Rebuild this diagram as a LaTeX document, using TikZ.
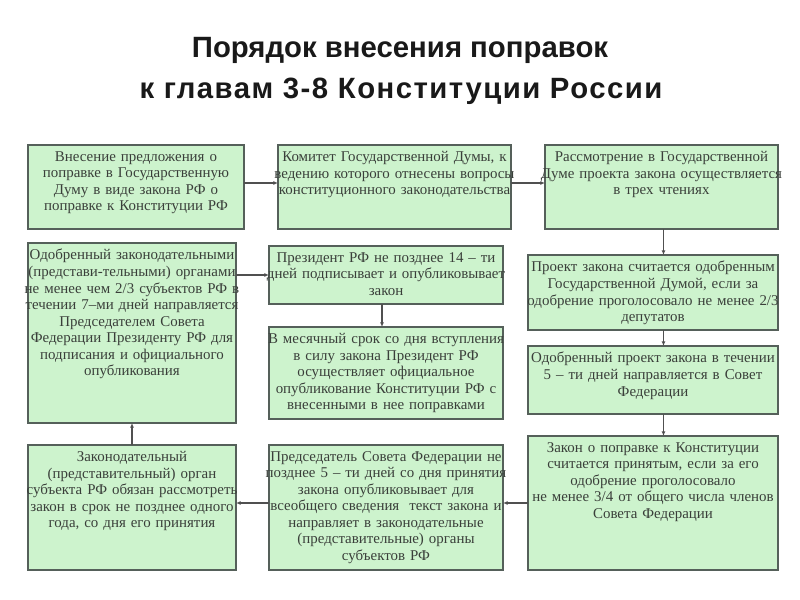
\documentclass[tikz,border=0pt]{standalone}
\usepackage{fontspec}
\setmainfont{Liberation Serif}
\newfontfamily\titlefont{Liberation Sans}
\newfontfamily\titlefontwide[LetterSpace=5]{Liberation Sans}
\usetikzlibrary{arrows.meta}
\definecolor{boxc}{HTML}{CDF3CD}
\definecolor{bordc}{HTML}{55605A}
\definecolor{txtc}{HTML}{3A3F3A}
\definecolor{arrc}{HTML}{505050}
\tikzset{
  box/.style={draw=bordc, fill=boxc, line width=1pt, anchor=north west, inner sep=0pt, outer sep=0pt},
  txt/.style={anchor=north, align=center, inner sep=0pt, text=txtc, font=\fontsize{11.2}{12.4}\selectfont},
  arr/.style={draw=arrc, line width=0.8pt, -{Latex[open,length=3.5pt,width=3pt]}},
  ttl/.style={anchor=base, text=black!90},
}
\newcommand\mkbox[6]{%
  \pgfmathsetmacro\bw{(#4-#2)*0.75}%
  \pgfmathsetmacro\bh{(#5-#3)*0.75}%
  \pgfmathsetmacro\tw{(#4-#2+30)*0.75}%
  \node[box, minimum width=\bw pt, minimum height=\bh pt] (#1) at (#2,#3) {};
  \node[txt, text width=\tw pt] (#1t) at ([yshift=-4.5pt]#1.north) {#6};
}
\begin{document}
\begin{tikzpicture}[x=0.75pt,y=-0.75pt]
\useasboundingbox (0,0) rectangle (800,600);
\node[ttl, font=\titlefont\bfseries\fontsize{22}{26}\selectfont] (T1) at (400,57) {Порядок внесения поправок};
\node[ttl, font=\titlefontwide\bfseries\fontsize{22}{26}\selectfont] (T2) at (401,98) {к главам 3-8 Конституции России};

\mkbox{A}{28}{145}{244}{229}{Внесение предложения о\\поправке в Государственную\\Думу в виде закона РФ о\\поправке к Конституции РФ}
\mkbox{B}{278}{145}{511}{229}{Комитет Государственной Думы, к\\ведению которого отнесены вопросы\\конституционного законодательства}
\mkbox{C}{545}{145}{778}{229}{Рассмотрение в Государственной\\Думе проекта закона осуществляется\\в трех чтениях}
\mkbox{G}{28}{243}{236}{423}{Одобренный законодательными\\(представи-тельными) органами\\не менее чем 2/3 субъектов РФ в\\течении 7–ми дней направляется\\Председателем Совета\\Федерации Президенту РФ для\\подписания и официального\\опубликования}
\mkbox{I}{269}{246}{503}{304}{Президент РФ не позднее 14 – ти\\дней подписывает и опубликовывает\\закон}
\mkbox{J}{269}{327}{503}{419}{В месячный срок со дня вступления\\в силу закона Президент РФ\\осуществляет официальное\\опубликование Конституции РФ с\\внесенными в нее поправками}
\mkbox{D}{528}{255}{778}{330}{Проект закона считается одобренным\\Государственной Думой, если за\\одобрение проголосовало не менее 2/3\\депутатов}
\mkbox{E}{528}{346}{778}{414}{Одобренный проект закона в течении\\5 – ти дней направляется в Совет\\Федерации}
\mkbox{H}{28}{445}{236}{570}{Законодательный\\(представительный) орган\\субъекта РФ обязан рассмотреть\\закон в срок не позднее одного\\года, со дня его принятия}
\mkbox{K}{269}{445}{503}{570}{Председатель Совета Федерации не\\позднее 5 – ти дней со дня принятия\\закона опубликовывает для\\всеобщего сведения\ \ текст закона и\\направляет в законодательные\\(представительные) органы\\субъектов РФ}
\mkbox{F}{528}{436}{778}{570}{Закон о поправке к Конституции\\считается принятым, если за его\\одобрение проголосовало\\не менее 3/4 от общего числа членов\\Совета Федерации}

\draw[arr] ([yshift=3pt]A.east) -- ([yshift=3pt]B.west);
\draw[arr] ([yshift=3pt]B.east) -- ([yshift=3pt]C.west);
\coordinate (cx) at ([xshift=1.5pt]C.south);
\draw[arr] (cx) -- (cx |- D.north);
\draw[arr] (cx |- D.south) -- (cx |- E.north);
\draw[arr] (cx |- E.south) -- (cx |- F.north);
\draw[arr] (F.west) -- (F.west -| K.east);
\draw[arr] (K.west |- F.west) -- (H.east |- F.west);
\draw[arr] (H.north) -- (G.south);
\draw[arr] (G.east |- I.west) -- (I.west);
\draw[arr] ([xshift=-3pt]I.south) -- ([xshift=-3pt]J.north);
\end{tikzpicture}
\end{document}
